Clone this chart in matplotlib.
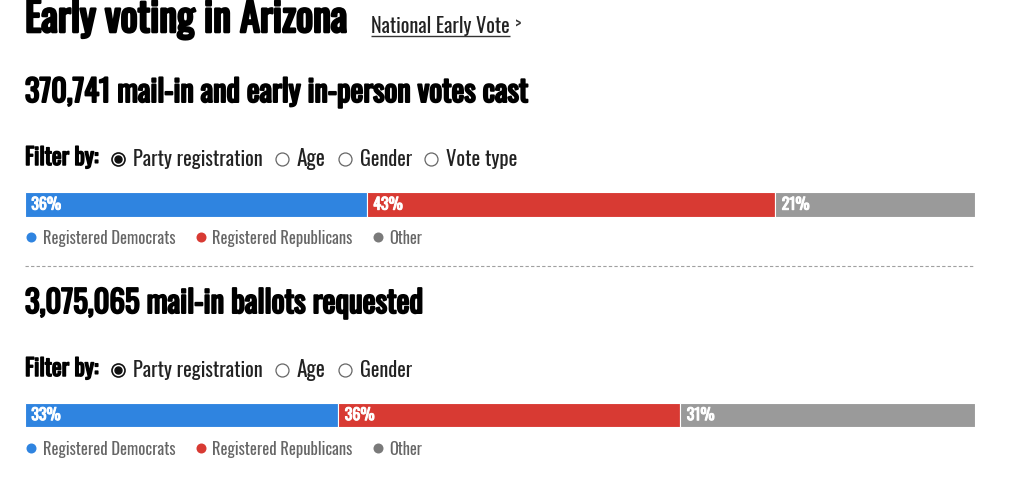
import matplotlib
matplotlib.use("Agg")
import matplotlib.pyplot as plt
from matplotlib import font_manager as fm
import matplotlib.patheffects as pe
import numpy as np

# ---------------- data ----------------
title = "Early voting in Arizona"
link_text = "National Early Vote"
categories = ["Registered Democrats", "Registered Republicans", "Other"]
votes_cast_total = 370741
votes_cast_share = [36, 43, 21]
ballots_requested_total = 3075065
ballots_requested_share = [33, 36, 31]
filter_options_votes = ["Party registration", "Age", "Gender", "Vote type"]
filter_options_ballots = ["Party registration", "Age", "Gender"]

# ---------------- styles ----------------
colors = ["#2f84e0", "#d83a33", "#9a9a9a"]
legend_dot_colors = ["#2f84e0", "#d83a33", "#7a7a7a"]

names = {f.name for f in fm.fontManager.ttflist}
FAM = "DejaVu Sans"
for cand in ["Oswald", "Roboto Condensed", "Liberation Sans Narrow",
             "Noto Sans Condensed", "Open Sans Condensed", "DejaVu Sans Condensed"]:
    if cand in names:
        FAM = cand
        break
STRETCH = "condensed"

_wmap = {"bold": 700, "semibold": 600, "demibold": 600, "heavy": 800,
         "black": 900, "extra bold": 800, "ultrabold": 800}


def _has_bold(fam):
    for f in fm.fontManager.ttflist:
        if f.name == fam:
            w = f.weight
            if isinstance(w, str):
                w = _wmap.get(w.lower(), 400)
            if w >= 600:
                return True
    return False


HAS_BOLD = _has_bold(FAM)

W, H = 1015, 489
fig = plt.figure(figsize=(W / 100, H / 100), dpi=100)
ov = fig.add_axes([0, 0, 1, 1])
ov.set_xlim(0, W)
ov.set_ylim(H, 0)
ov.axis("off")
renderer = fig.canvas.get_renderer()


def bold_kw(color, stroke_px):
    if HAS_BOLD:
        return dict(fontweight="bold")
    return dict(path_effects=[pe.withStroke(linewidth=stroke_px * 0.72,
                                            foreground=color)])


def fit_text(x, y, s, right, cap_px, bold=False, stroke_px=2.0, color="#111111"):
    size = cap_px / 0.72 * 72 / 100
    kw = bold_kw(color, stroke_px) if bold else {}
    t = ov.text(x, y, s, fontsize=size, color=color, family=FAM,
                fontstretch=STRETCH, va="baseline", ha="left", **kw)
    w = t.get_window_extent(renderer).width + (stroke_px if bold else 0)
    target = right - x
    if w > target:
        t.set_fontsize(size * target / w)
    return t


def px_marker(d):
    return (d * 72 / 100) ** 2


# ---------------- header ----------------
fit_text(25, 33, title, 357, 29, bold=True, stroke_px=2.6, color="#000000")
fit_text(371, 33, link_text, 510, 17, color="#222222")
ov.plot([371, 510], [37, 37], color="#333333", lw=1.0, solid_capstyle="butt")
fit_text(515, 31, ">", 523, 12, color="#333333")

# ---------------- headlines ----------------
fit_text(25, 103, f"{votes_cast_total:,} mail-in and early in-person votes cast", 530, 24,
         bold=True, stroke_px=2.0, color="#000000")
fit_text(25, 314, f"{ballots_requested_total:,} mail-in ballots requested", 425, 24,
         bold=True, stroke_px=2.0, color="#000000")

# ---------------- filter rows ----------------
opt_left = [133, 297, 360, 446]
opt_right = [263, 326, 412, 517]
radio_x = [118, 282, 345, 431]


def filter_row(base, center, options):
    fit_text(25, base, "Filter by:", 100, 17, bold=True, stroke_px=1.5, color="#000000")
    for i, opt in enumerate(options):
        fit_text(opt_left[i], base, opt, opt_right[i], 17, color="#222222")
        if i == 0:
            ov.scatter([radio_x[i]], [center], s=px_marker(13), facecolor="white",
                       edgecolor="#111111", linewidth=1.2, zorder=3)
            ov.scatter([radio_x[i]], [center], s=px_marker(7), color="#111111", zorder=4)
        else:
            ov.scatter([radio_x[i]], [center], s=px_marker(13), facecolor="white",
                       edgecolor="#666666", linewidth=0.9, zorder=3)


filter_row(166, 159.5, filter_options_votes)
filter_row(377, 370.5, filter_options_ballots)


# ---------------- stacked bars ----------------
def stacked_bar(top, bottom, shares):
    ax = fig.add_axes([25 / W, 1 - bottom / H, 950 / W, (bottom - top) / H])
    lefts = np.concatenate([[0], np.cumsum(shares)[:-1]])
    ax.barh([0] * len(shares), shares, left=lefts, height=1.0, color=colors,
            edgecolor="white", linewidth=0.8)
    ax.set_xlim(0, sum(shares))
    ax.set_ylim(-0.5, 0.5)
    ax.axis("off")
    for l, v in zip(lefts, shares):
        kw = bold_kw("white", 1.0)
        ax.annotate(f"{v}%", (l, 0), xytext=(4.5, -0.5), textcoords="offset points",
                    va="center", ha="left", color="white",
                    fontsize=11.5, family=FAM, fontstretch=STRETCH, **kw)
    return ax


stacked_bar(193, 218, votes_cast_share)
stacked_bar(404, 428, ballots_requested_share)

# ---------------- legends ----------------
leg_dot_x = [31, 201, 378]
leg_txt_x = [43, 212, 389]
leg_txt_r = [175, 352, 422]


def legend_row(base, center):
    for i, cat in enumerate(categories):
        ov.scatter([leg_dot_x[i]], [center], s=px_marker(10), color=legend_dot_colors[i],
                   linewidth=0, zorder=3)
        fit_text(leg_txt_x[i], base, cat, leg_txt_r[i], 13.5, color="#666666")


legend_row(244, 238)
legend_row(455, 449)

ov.plot([25, 975], [266.5, 266.5], color="#a0a0a0", lw=0.8, ls=(0, (3, 2)))

fig.savefig("out.png", dpi=100)
